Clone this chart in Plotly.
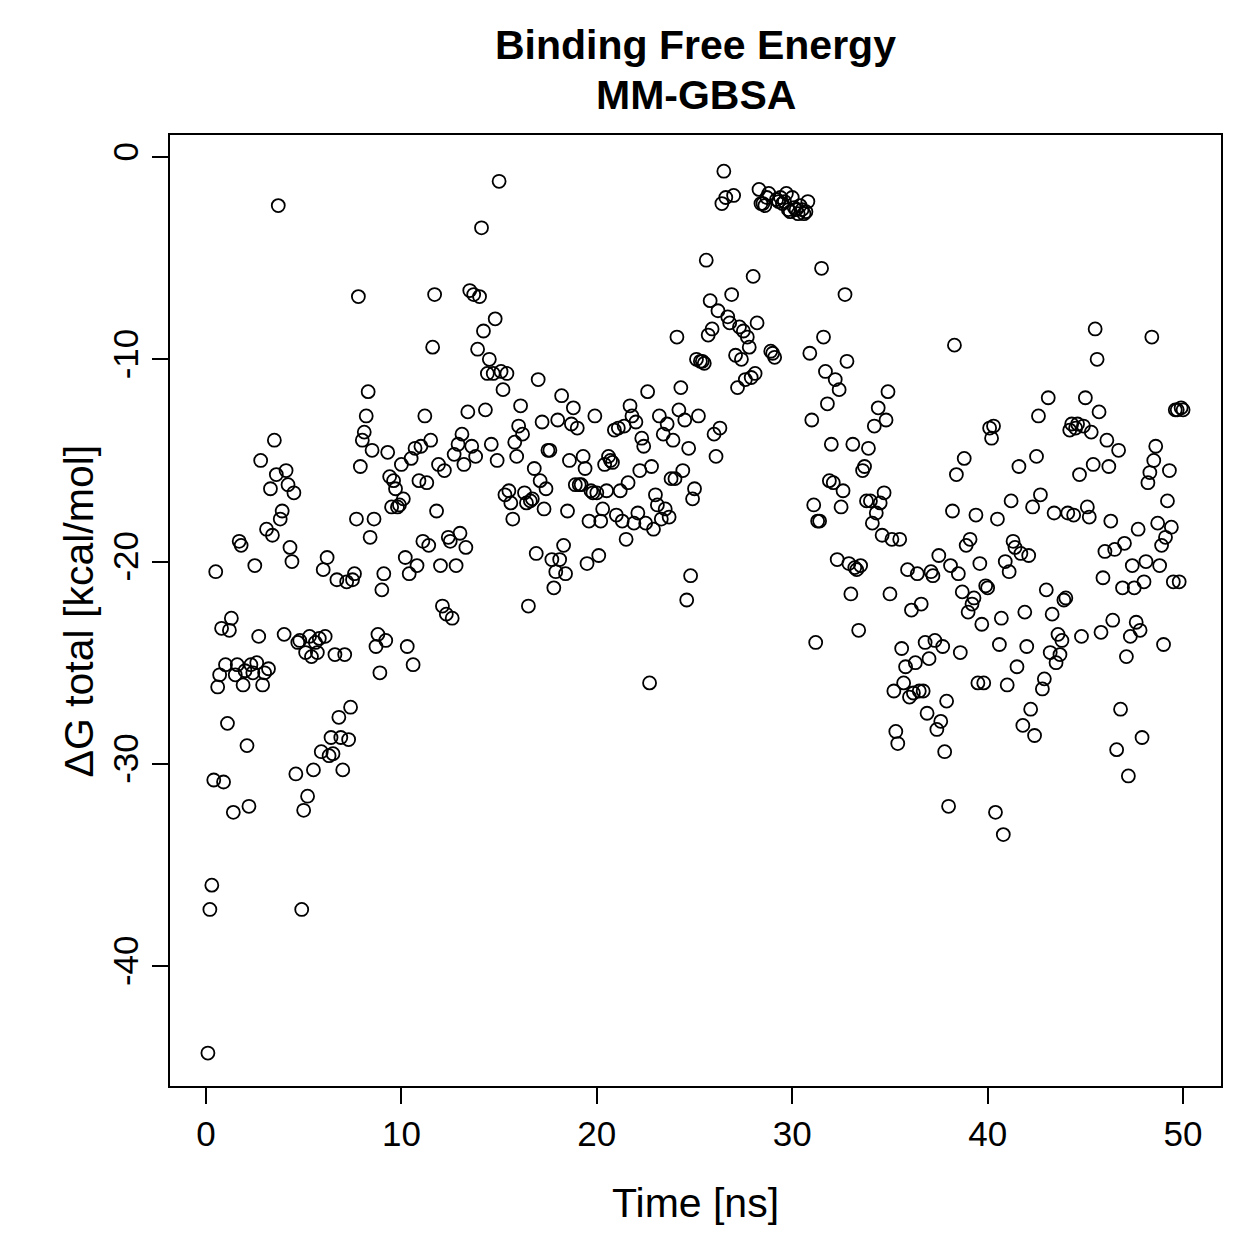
import plotly.graph_objects as go

# Time [ns]
time_ns = [
0.1,0.2,0.3,0.4,0.5,0.6,0.7,0.8,0.9,1.0,1.1,1.2,1.3,1.4,1.5,1.6,1.7,1.8,1.9,2.0,
2.1,2.2,2.3,2.4,2.5,2.6,2.7,2.8,2.9,3.0,3.1,3.2,3.3,3.4,3.5,3.6,3.7,3.8,3.9,4.0,
4.1,4.2,4.3,4.4,4.5,4.6,4.7,4.8,4.9,5.0,5.1,5.2,5.3,5.4,5.5,5.6,5.7,5.8,5.9,6.0,
6.1,6.2,6.3,6.4,6.5,6.6,6.7,6.8,6.9,7.0,7.1,7.2,7.3,7.4,7.5,7.6,7.7,7.8,7.9,8.0,
8.1,8.2,8.3,8.4,8.5,8.6,8.7,8.8,8.9,9.0,9.1,9.2,9.3,9.4,9.5,9.6,9.7,9.8,9.9,10.0,
10.1,10.2,10.3,10.4,10.5,10.6,10.7,10.8,10.9,11.0,11.1,11.2,11.3,11.4,11.5,11.6,11.7,11.8,11.9,12.0,
12.1,12.2,12.3,12.4,12.5,12.6,12.7,12.8,12.9,13.0,13.1,13.2,13.3,13.4,13.5,13.6,13.7,13.8,13.9,14.0,
14.1,14.2,14.3,14.4,14.5,14.6,14.7,14.8,14.9,15.0,15.1,15.2,15.3,15.4,15.5,15.6,15.7,15.8,15.9,16.0,
16.1,16.2,16.3,16.4,16.5,16.6,16.7,16.8,16.9,17.0,17.1,17.2,17.3,17.4,17.5,17.6,17.7,17.8,17.9,18.0,
18.1,18.2,18.3,18.4,18.5,18.6,18.7,18.8,18.9,19.0,19.1,19.2,19.3,19.4,19.5,19.6,19.7,19.8,19.9,20.0,
20.1,20.2,20.3,20.4,20.5,20.6,20.7,20.8,20.9,21.0,21.1,21.2,21.3,21.4,21.5,21.6,21.7,21.8,21.9,22.0,
22.1,22.2,22.3,22.4,22.5,22.6,22.7,22.8,22.9,23.0,23.1,23.2,23.3,23.4,23.5,23.6,23.7,23.8,23.9,24.0,
24.1,24.2,24.3,24.4,24.5,24.6,24.7,24.8,24.9,25.0,25.1,25.2,25.3,25.4,25.5,25.6,25.7,25.8,25.9,26.0,
26.1,26.2,26.3,26.4,26.5,26.6,26.7,26.8,26.9,27.0,27.1,27.2,27.3,27.4,27.5,27.6,27.7,27.8,27.9,28.0,
28.1,28.2,28.3,28.4,28.5,28.6,28.7,28.8,28.9,29.0,29.1,29.2,29.3,29.4,29.5,29.6,29.7,29.8,29.9,30.0,
30.1,30.2,30.3,30.4,30.5,30.6,30.7,30.8,30.9,31.0,31.1,31.2,31.3,31.4,31.5,31.6,31.7,31.8,31.9,32.0,
32.1,32.2,32.3,32.4,32.5,32.6,32.7,32.8,32.9,33.0,33.1,33.2,33.3,33.4,33.5,33.6,33.7,33.8,33.9,34.0,
34.1,34.2,34.3,34.4,34.5,34.6,34.7,34.8,34.9,35.0,35.1,35.2,35.3,35.4,35.5,35.6,35.7,35.8,35.9,36.0,
36.1,36.2,36.3,36.4,36.5,36.6,36.7,36.8,36.9,37.0,37.1,37.2,37.3,37.4,37.5,37.6,37.7,37.8,37.9,38.0,
38.1,38.2,38.3,38.4,38.5,38.6,38.7,38.8,38.9,39.0,39.1,39.2,39.3,39.4,39.5,39.6,39.7,39.8,39.9,40.0,
40.1,40.2,40.3,40.4,40.5,40.6,40.7,40.8,40.9,41.0,41.1,41.2,41.3,41.4,41.5,41.6,41.7,41.8,41.9,42.0,
42.1,42.2,42.3,42.4,42.5,42.6,42.7,42.8,42.9,43.0,43.1,43.2,43.3,43.4,43.5,43.6,43.7,43.8,43.9,44.0,
44.1,44.2,44.3,44.4,44.5,44.6,44.7,44.8,44.9,45.0,45.1,45.2,45.3,45.4,45.5,45.6,45.7,45.8,45.9,46.0,
46.1,46.2,46.3,46.4,46.5,46.6,46.7,46.8,46.9,47.0,47.1,47.2,47.3,47.4,47.5,47.6,47.7,47.8,47.9,48.0,
48.1,48.2,48.3,48.4,48.5,48.6,48.7,48.8,48.9,49.0,49.1,49.2,49.3,49.4,49.5,49.6,49.7,49.8,49.9,50.0,
]

# Delta G total [kcal/mol]
dg_total = [
-44.3,-37.2,-36.0,-30.8,-20.5,-26.2,-25.6,-23.3,-30.9,-25.1,-28.0,-23.4,-22.8,-32.4,-25.6,-25.1,-19.0,-19.2,-26.1,-25.4,
-29.1,-32.1,-25.1,-25.5,-20.2,-25.0,-23.7,-15.0,-26.1,-25.5,-18.4,-25.3,-16.4,-18.7,-14.0,-15.7,-2.4,-17.9,-17.5,-23.6,
-15.5,-16.2,-19.3,-20.0,-16.6,-30.5,-24.0,-23.9,-37.2,-32.3,-24.5,-31.6,-23.7,-24.7,-30.3,-24.0,-24.5,-23.8,-29.4,-20.4,
-23.7,-19.8,-29.6,-28.7,-29.5,-24.6,-20.9,-27.7,-28.7,-30.3,-24.6,-21.0,-28.8,-27.2,-20.9,-20.6,-17.9,-6.9,-15.3,-14.0,
-13.6,-12.8,-11.6,-18.8,-14.5,-17.9,-24.2,-23.6,-25.5,-21.4,-20.6,-23.9,-14.6,-15.8,-17.3,-16.0,-16.4,-17.3,-17.2,-15.2,
-16.9,-19.8,-24.2,-20.6,-14.9,-25.1,-14.4,-20.2,-16.0,-14.3,-19.0,-12.8,-16.1,-19.2,-14.0,-9.4,-6.8,-17.5,-15.2,-20.2,
-22.2,-15.5,-22.6,-18.8,-19.0,-22.8,-14.7,-20.2,-14.2,-18.6,-13.7,-15.2,-19.3,-12.6,-6.6,-14.3,-6.8,-14.8,-9.5,-6.9,
-3.5,-8.6,-12.5,-10.7,-10.0,-14.2,-10.7,-8.0,-15.0,-1.2,-10.6,-11.5,-16.7,-10.7,-16.5,-17.1,-17.9,-14.1,-14.8,-13.3,
-12.3,-13.7,-16.6,-17.1,-22.2,-17.0,-16.9,-15.4,-19.6,-11.0,-16.0,-13.1,-17.4,-16.4,-14.5,-14.5,-19.9,-21.3,-20.5,-13.0,
-19.9,-11.8,-19.2,-20.6,-17.5,-15.0,-13.2,-12.4,-16.2,-13.4,-16.2,-16.2,-14.8,-15.4,-20.1,-18.0,-16.5,-16.6,-12.8,-16.6,
-19.7,-18.0,-17.4,-15.2,-16.5,-14.8,-15.0,-15.1,-13.5,-17.7,-13.4,-16.5,-18.0,-13.3,-18.9,-16.1,-12.3,-12.8,-18.1,-13.1,
-17.6,-15.5,-13.9,-14.3,-18.1,-11.6,-26.0,-15.3,-18.4,-16.7,-17.2,-12.8,-17.9,-13.7,-17.4,-13.2,-17.8,-15.9,-14.0,-15.9,
-8.9,-12.5,-11.4,-15.5,-13.0,-21.9,-14.4,-20.7,-16.9,-16.4,-10.0,-12.8,-10.1,-10.1,-10.2,-5.1,-8.8,-7.1,-8.5,-13.7,
-14.8,-7.6,-13.4,-2.3,-0.7,-2.0,-7.9,-8.2,-6.8,-1.9,-9.8,-11.4,-8.4,-10.0,-8.6,-11.0,-8.9,-9.4,-10.9,-5.9,
-10.7,-8.2,-1.6,-2.3,-2.3,-2.4,-2.0,-1.8,-9.6,-9.7,-9.9,-2.1,-2.2,-2.0,-2.3,-2.2,-1.8,-2.6,-2.7,-2.0,
-2.5,-2.6,-2.8,-2.4,-2.6,-2.8,-2.7,-2.2,-9.7,-13.0,-17.2,-24.0,-18.0,-18.0,-5.5,-8.9,-10.6,-12.2,-16.0,-14.2,
-16.1,-11.0,-19.9,-11.5,-17.3,-16.5,-6.8,-10.1,-20.1,-21.6,-14.2,-20.3,-20.4,-23.4,-20.2,-15.5,-15.3,-17.0,-14.4,-17.0,
-18.1,-13.3,-17.6,-12.4,-17.1,-18.7,-16.6,-13.0,-11.6,-21.6,-18.9,-26.4,-28.4,-29.0,-18.9,-24.3,-26.0,-25.2,-20.4,-26.7,
-22.4,-26.5,-25.0,-20.6,-26.4,-22.1,-26.4,-24.0,-27.5,-24.8,-20.5,-20.7,-23.9,-28.3,-19.7,-27.9,-24.2,-29.4,-26.9,-32.1,
-20.2,-17.5,-9.3,-15.7,-20.6,-24.5,-21.5,-14.9,-19.2,-22.5,-18.9,-22.1,-21.8,-17.7,-26.0,-20.1,-23.1,-26.0,-21.2,-21.3,
-13.4,-13.9,-13.3,-32.4,-17.9,-24.1,-22.8,-33.5,-20.0,-26.1,-20.5,-17.0,-19.0,-19.3,-25.2,-15.3,-19.6,-28.1,-22.5,-24.2,
-19.7,-27.3,-17.3,-28.6,-14.8,-12.8,-16.7,-26.3,-25.8,-21.4,-11.9,-24.5,-22.6,-17.6,-25.0,-23.6,-24.6,-23.9,-21.9,-21.8,
-17.6,-13.5,-13.2,-17.7,-13.4,-13.2,-15.7,-23.7,-13.3,-11.9,-17.3,-17.8,-13.6,-15.2,-8.5,-10.0,-12.6,-23.5,-20.8,-19.5,
-14.0,-15.3,-18.0,-22.9,-19.4,-29.3,-14.5,-27.3,-21.3,-19.1,-24.7,-30.6,-23.7,-20.2,-21.3,-23.0,-18.4,-23.4,-28.7,-21.0,
-20.0,-16.1,-15.6,-8.9,-15.0,-14.3,-18.1,-20.2,-19.2,-24.1,-18.8,-17.0,-15.5,-18.3,-21.0,-12.5,-12.5,-21.0,-12.4,-12.5,
]

x_ticks = [0, 10, 20, 30, 40, 50]
y_ticks = [0, -10, -20, -30, -40]

n = min(len(time_ns), len(dg_total))

FONT = "Liberation Sans, Arial, Helvetica, sans-serif"

fig = go.Figure()
fig.add_trace(go.Scatter(
    x=time_ns[:n], y=dg_total[:n], mode="markers",
    marker=dict(symbol="circle-open", size=13, color="black",
                line=dict(color="black", width=1.8)),
    showlegend=False, hoverinfo="x+y",
))

L, R, T, B = 170, 38, 135, 173
W = H = 1259
pw = W - L - R
ph = H - T - B

fig.update_layout(
    width=W, height=H,
    margin=dict(l=L, r=R, t=T, b=B, pad=0),
    paper_bgcolor="white", plot_bgcolor="white",
    font=dict(family=FONT, size=35, color="black"),
    xaxis=dict(
        range=[-1.84, 51.94], tickvals=x_ticks, ticktext=[str(v) for v in x_ticks],
        ticks="outside", ticklen=16, tickwidth=2, tickcolor="black",
        showgrid=False, zeroline=False,
        showline=True, linecolor="black", linewidth=2, mirror=True,
        tickfont=dict(size=35),
    ),
    yaxis=dict(
        range=[-45.93, 1.09], tickvals=y_ticks, ticktext=[str(v) for v in y_ticks],
        ticks="outside", ticklen=16, tickwidth=2, tickcolor="black",
        showgrid=False, zeroline=False, tickangle=-90,
        showline=True, linecolor="black", linewidth=2, mirror=True,
        tickfont=dict(size=35),
    ),
    annotations=[
        dict(text="<b>Binding Free Energy</b>", xref="paper", yref="paper",
             x=0.5, y=(H - B - 45) / ph, xanchor="center", yanchor="middle",
             showarrow=False, font=dict(size=41, family=FONT)),
        dict(text="<b>MM-GBSA</b>", xref="paper", yref="paper",
             x=0.5, y=(H - B - 95) / ph, xanchor="center", yanchor="middle",
             showarrow=False, font=dict(size=41, family=FONT)),
        dict(text="Time [ns]", xref="paper", yref="paper",
             x=0.5, y=-(1203 - (H - B)) / ph, xanchor="center", yanchor="middle",
             showarrow=False, font=dict(size=41, family=FONT)),
        dict(text="ΔG total [kcal/mol]", xref="paper", yref="paper",
             x=-(L - 78) / pw, y=0.5, xanchor="center", yanchor="middle",
             textangle=-90, showarrow=False, font=dict(size=41, family=FONT)),
    ],
)

fig.write_html("out.html")
